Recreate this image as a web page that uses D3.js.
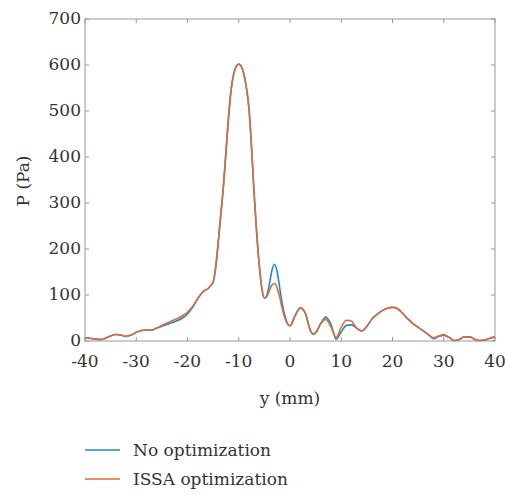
<!DOCTYPE html>
<html>
<head>
<meta charset="utf-8">
<script src="https://cdn.jsdelivr.net/npm/d3@7"></script>
<style>
  body { margin: 0; background: #fff; }
</style>
</head>
<body>
<svg id="chart" width="505" height="495"></svg>
<script>
// y position along the line (mm)
const yPos = [-40,-39,-38,-37,-36,-35,-34,-33,-32,-31,-30,-29,-28,-27,-26,-25,-24,-23,-22,-21,-20,-19,-18,-17,-16,
  -15.5,-15,-14.5,-14,-13.5,-13,-12.5,-12,-11.5,-11,-10.5,-10,-9.5,-9,-8.5,-8,-7.5,-7,-6.5,-6,-5.5,-5,-4.5,-4,-3.5,-3,-2.5,-2,-1.5,-1,-0.5,
  0,1,2,3,4,4.5,5,6,7,8,9,10,11,12,13,14,15,16,17,18,19,20,21,22,23,24,25,26,27,28,29,30,31,32,33,34,35,36,37,38,39,40];

// pressure (Pa), no optimization
const noOpt = [7,6,4,3,6,11,14,13,10,13,19,23,24,24,28,32,36,40,44,50,59,73,92,107,114,
  120,128,160,215,275,335,410,485,545,580,597,602,597,580,550,505,420,320,235,165,115,93,100,125,155,167,150,115,80,55,38,
  33,55,72,60,22,15,18,38,52,36,4,20,34,35,28,22,32,48,58,66,71,73,70,60,48,38,30,22,14,5,10,12,8,1,3,9,9,4,1,2,6,9];

// pressure (Pa), ISSA optimization
const issa = [7,6,4,3,6,11,14,13,10,13,19,23,24,24,28,34,39,44,49,55,63,75,92,107,114,
  120,128,160,215,275,335,410,485,545,580,597,602,597,580,550,505,420,320,235,165,115,93,97,110,122,125,115,95,70,50,38,
  33,55,72,60,22,15,18,38,47,30,8,30,45,43,28,22,32,48,58,66,71,73,70,60,48,38,30,22,14,7,11,14,8,1,3,9,9,4,1,2,6,9];

const xTicks = [-40,-30,-20,-10,0,10,20,30,40];
const yTicks = [0,100,200,300,400,500,600,700];
const seriesNames = ["No optimization", "ISSA optimization"];
const seriesColors = ["#2389bd", "#dc6b3c"];

const FONT = "DejaVu Serif";
const FSIZE = "17px";

const svg = d3.select("#chart");
const plotL = 85, plotR = 495, plotT = 19, plotB = 341;

const x = d3.scaleLinear().domain([-40, 40]).range([plotL, plotR]);
const y = d3.scaleLinear().domain([0, 700]).range([plotB, plotT]);

function label(xp, yp, str, anchor) {
  return svg.append("text")
    .attr("x", xp).attr("y", yp)
    .attr("text-anchor", anchor)
    .style("font-family", FONT)
    .style("font-size", FSIZE)
    .attr("fill", "#333")
    .text(str);
}

// frame
svg.append("rect")
  .attr("x", plotL).attr("y", plotT)
  .attr("width", plotR - plotL).attr("height", plotB - plotT)
  .attr("fill", "none").attr("stroke", "#999").attr("stroke-width", 1);

// inward ticks on all four sides
const tickLen = 4;
xTicks.forEach(function (t) {
  svg.append("line").attr("x1", x(t)).attr("x2", x(t)).attr("y1", plotB).attr("y2", plotB - tickLen)
    .attr("stroke", "#999");
  svg.append("line").attr("x1", x(t)).attr("x2", x(t)).attr("y1", plotT).attr("y2", plotT + tickLen)
    .attr("stroke", "#999");
  label(x(t), plotB + 26, t, "middle");
});
yTicks.forEach(function (t) {
  svg.append("line").attr("x1", plotL).attr("x2", plotL + tickLen).attr("y1", y(t)).attr("y2", y(t))
    .attr("stroke", "#999");
  svg.append("line").attr("x1", plotR).attr("x2", plotR - tickLen).attr("y1", y(t)).attr("y2", y(t))
    .attr("stroke", "#999");
  label(plotL - 4, y(t) + 5, t, "end");
});

// axis titles
label((plotL + plotR) / 2, 404, "y (mm)", "middle");
label(0, 0, "P (Pa)", "middle")
  .attr("transform", "translate(29," + 181 + ") rotate(-90)");

// curves
const line = d3.line()
  .x(function (d) { return x(d[0]); })
  .y(function (d) { return y(d[1]); })
  .curve(d3.curveMonotoneX);

[noOpt, issa].forEach(function (vals, i) {
  svg.append("path")
    .datum(yPos.map(function (p, j) { return [p, vals[j]]; }))
    .attr("d", line)
    .attr("fill", "none")
    .attr("stroke", seriesColors[i])
    .attr("stroke-width", 1.6);
});

// legend
seriesNames.forEach(function (name, i) {
  const ly = 450 + i * 29;
  svg.append("line").attr("x1", 85).attr("x2", 120).attr("y1", ly).attr("y2", ly)
    .attr("stroke", seriesColors[i]).attr("stroke-width", 1.5);
  label(133, ly + 6, name, "start");
});
</script>
</body>
</html>
